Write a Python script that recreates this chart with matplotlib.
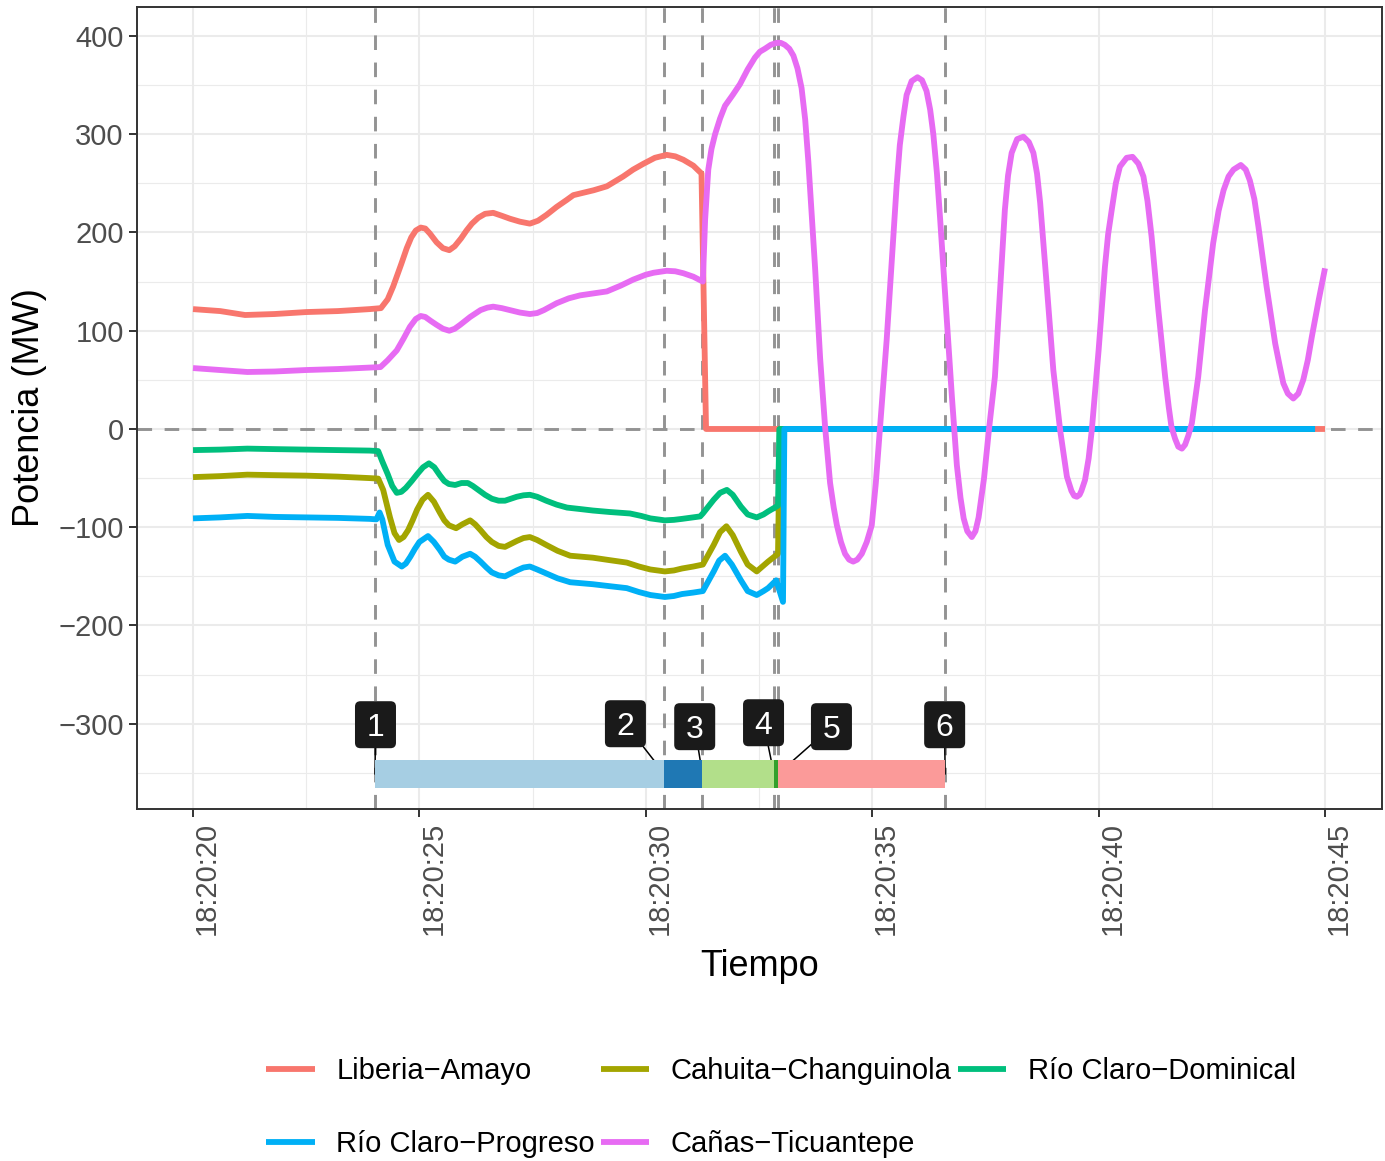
import datetime as dt
import matplotlib
matplotlib.use("Agg")
import matplotlib.pyplot as plt
from matplotlib.patches import FancyBboxPatch
from matplotlib.ticker import FixedLocator, FuncFormatter

# time = seconds after 18:20:20
base = dt.datetime(2020, 1, 1, 18, 20, 20)

t_lib = [0, 0.6, 1.15, 1.8, 2.5, 3.2, 3.9, 4.15, 4.3, 4.42, 4.6, 4.72, 4.82, 4.92, 5.03, 5.13,
         5.23, 5.38, 5.52, 5.66, 5.78, 5.92, 6.04, 6.16, 6.3, 6.45, 6.63, 6.82, 7.0, 7.22,
         7.44, 7.62, 7.81, 8.03, 8.25, 8.4, 8.58, 8.85, 9.14, 9.32, 9.5, 9.72, 9.95, 10.2,
         10.46, 10.65, 10.83, 11.05, 11.23, 11.33, 25.0]
v_lib = [122, 120, 116, 117, 119, 120, 122, 123, 132, 145, 168, 184, 195, 202, 205, 204,
         199, 190, 184, 182, 186, 194, 202, 209, 215, 219, 220, 217, 214, 211,
         209, 212, 218, 226, 233, 238, 240, 243, 247, 252, 257, 264, 270, 276,
         279, 277.5, 274, 268, 260, 0, 0]

t_cah = [0, 0.6, 1.2, 1.8, 2.5, 3.2, 3.9, 4.09, 4.2, 4.35, 4.45, 4.55, 4.65, 4.75, 4.85, 4.95,
         5.07, 5.19, 5.32, 5.45, 5.55, 5.65, 5.81, 5.95, 6.12, 6.23, 6.35, 6.48, 6.6, 6.75,
         6.89, 7.02, 7.15, 7.3, 7.44, 7.6, 7.8, 8.05, 8.33, 8.58, 8.83, 9.2, 9.58, 9.85,
         10.1, 10.42, 10.62, 10.8, 11.05, 11.26, 11.38, 11.5, 11.64, 11.78, 11.92, 12.1,
         12.25, 12.45, 12.6, 12.7, 12.92, 12.96, 24.78]
v_cah = [-49, -48, -46.5, -47, -47.5, -48.5, -50, -50.5, -62, -90, -106, -113, -110, -103, -93, -82,
         -72, -67, -74, -85, -93, -98, -101, -97, -93, -97, -103, -110, -115, -119,
         -120, -117, -114, -111, -110, -113, -118, -124, -129, -130, -131, -133.5, -136, -140,
         -143, -145, -144, -142, -140, -138, -128, -118, -105, -99, -108, -125,
         -138, -145, -139, -135, -127, 0, 0]

t_dom = [0, 0.6, 1.2, 1.8, 2.5, 3.2, 3.9, 4.09, 4.18, 4.3, 4.4, 4.5, 4.6, 4.7, 4.83, 4.95,
         5.08, 5.21, 5.33, 5.45, 5.55, 5.65, 5.79, 5.93, 6.07, 6.18, 6.3, 6.45, 6.6, 6.75,
         6.89, 7.02, 7.15, 7.3, 7.44, 7.6, 7.8, 8.03, 8.26, 8.55, 8.83, 9.2, 9.65, 9.9,
         10.1, 10.42, 10.62, 10.8, 11.2, 11.26, 11.38, 11.5, 11.64, 11.79, 11.92, 12.1,
         12.25, 12.45, 12.6, 12.7, 12.92, 12.95, 24.78]
v_dom = [-21.5, -21, -20, -20.5, -21, -21.5, -22, -22.5, -33, -46, -58, -65, -64, -60, -53, -46,
         -39, -35, -39, -47, -53, -56, -57, -55, -55, -58, -62, -67, -71, -73,
         -73, -71, -69, -67.5, -67, -69, -73, -77, -80, -81.5, -83, -84.5, -86, -88.5,
         -91, -93, -92.5, -91.5, -89, -86, -79, -72, -65, -62, -67, -79,
         -87, -90, -87, -84, -78, 0, 0]

t_pro = [0, 0.6, 1.2, 1.8, 2.5, 3.2, 3.9, 4.05, 4.12, 4.18, 4.3, 4.45, 4.61, 4.7, 4.8, 4.9,
         5.0, 5.19, 5.32, 5.45, 5.55, 5.65, 5.79, 5.95, 6.12, 6.23, 6.35, 6.48, 6.6, 6.75,
         6.89, 7.02, 7.15, 7.3, 7.44, 7.6, 7.8, 8.05, 8.33, 8.58, 8.83, 9.2, 9.58, 9.85,
         10.1, 10.42, 10.62, 10.8, 11.05, 11.26, 11.38, 11.5, 11.62, 11.75, 11.9, 12.1,
         12.25, 12.45, 12.6, 12.7, 12.88, 13.03, 13.06, 24.78]
v_pro = [-91, -90, -88.5, -89.5, -90, -90.5, -91.5, -92, -85, -92, -118, -135, -140, -137, -130, -122,
         -115, -109, -115, -123, -130, -133, -135, -130, -127, -130, -135, -141, -146, -149,
         -150, -147, -144, -141, -140, -143, -147, -152, -156, -157, -158, -160, -162, -166,
         -169, -171, -170, -168, -166.5, -165, -155, -145, -134, -129, -138, -154,
         -165, -169, -165, -162, -154, -176, 0, 0]

t_can = [0, 0.6, 1.2, 1.8, 2.5, 3.2, 3.9, 4.14, 4.3, 4.5, 4.65, 4.79, 4.92, 5.03, 5.13, 5.25,
         5.38, 5.52, 5.66, 5.78, 5.9, 6.12, 6.35, 6.5, 6.63, 6.82, 7.0, 7.22, 7.44, 7.6,
         7.75, 8.03, 8.3, 8.55, 8.85, 9.14, 9.45, 9.72, 10.0, 10.17, 10.46, 10.65, 10.83, 11.05,
         11.26, 11.31, 11.38, 11.45, 11.53, 11.64, 11.75, 11.92, 12.08, 12.25, 12.41, 12.52,
         12.63, 12.76, 12.89, 12.98, 13.07, 13.17, 13.26, 13.35, 13.44, 13.52, 13.59, 13.74,
         13.85, 13.96, 14.07, 14.15, 14.22, 14.31, 14.40, 14.49, 14.58, 14.67, 14.77, 14.88,
         14.99, 15.08, 15.17, 15.32, 15.47, 15.54, 15.61, 15.69, 15.76, 15.87, 16.0, 16.1,
         16.2, 16.28, 16.35, 16.43, 16.5, 16.64, 16.76, 16.87, 16.95, 17.02, 17.1, 17.2,
         17.28, 17.35, 17.47, 17.58, 17.71, 17.82, 17.93, 18.0, 18.08, 18.2, 18.34, 18.46,
         18.56, 18.64, 18.71, 18.85, 19.0, 19.15, 19.3, 19.4, 19.46, 19.52, 19.58, 19.62,
         19.7, 19.78, 19.85, 20.0, 20.14, 20.21, 20.29, 20.38, 20.47, 20.62, 20.75, 20.88,
         20.99, 21.08, 21.17, 21.32, 21.47, 21.55, 21.61, 21.69, 21.76, 21.84, 21.91, 21.98,
         22.06, 22.2, 22.35, 22.53, 22.65, 22.76, 22.87, 22.98, 23.14, 23.25, 23.34, 23.44,
         23.53, 23.71, 23.9, 24.0, 24.08, 24.18, 24.3, 24.41, 24.52, 24.62, 24.71, 24.86,
         25.0]
v_can = [62, 60, 58, 58.5, 60, 61, 62.5, 63, 70, 80, 92, 104, 112, 115, 114, 110,
         106, 102, 100, 102, 106, 114, 121, 123.5, 124.5, 123, 121, 118.5, 117, 118,
         121, 128, 133, 136, 138, 140, 146, 152, 157, 159, 161, 160.5, 158.5, 155,
         150, 213, 264, 285, 300, 316, 329, 340, 351, 366, 378, 384,
         387, 391, 393, 393, 391, 387, 380, 367, 347, 315, 272, 163,
         72, 2, -55, -80, -98, -115, -127, -133, -135, -133, -127, -115,
         -98, -55, 0, 91, 199, 248, 289, 318, 340, 354, 358, 355,
         344, 325, 300, 260, 214, 116, 33, -37, -70, -91, -104, -110,
         -104, -90, -50, 0, 53, 138, 223, 258, 281, 295, 297.5, 292,
         281, 260, 230, 149, 60, -1, -48.5, -63, -68, -69, -67, -63,
         -52, -30, -1, 80, 165, 198, 223, 250, 267, 276, 277, 270,
         257, 232, 196, 121, 53, 22, 2, -10, -18, -20, -16, -7,
         6, 53, 121, 189, 222, 243, 257, 264, 268.7, 264, 253, 234,
         206, 145, 87, 64, 46.5, 36, 31, 36, 50, 70, 94, 131,
         163.5]

series_names = ["Liberia\u2212Amayo", "Cahuita\u2212Changuinola", "Río Claro\u2212Dominical",
                "Río Claro\u2212Progreso", "Cañas\u2212Ticuantepe"]
series_t = [t_lib, t_cah, t_dom, t_pro, t_can]
series_v = [v_lib, v_cah, v_dom, v_pro, v_can]
series_colors = ["#F8766D", "#A3A500", "#00BF7D", "#00B0F6", "#E76BF3"]

# events (dashed lines + timeline)
event_t = [4.02, 10.41, 11.25, 12.83, 12.92, 16.61]
event_labels = ["1", "2", "3", "4", "5", "6"]
segment_colors = ["#A6CEE3", "#1F78B4", "#B2DF8A", "#33A02C", "#FB9A99"]
# label box positions (repelled)
label_x = [4.03, 9.55, 11.08, 12.60, 14.10, 16.60]
label_y = [-301, -300, -303, -299, -303, -301]

plt.rcParams["font.family"] = ["Liberation Sans", "DejaVu Sans"]

W, H = 1385, 1161
fig = plt.figure(figsize=(W / 100, H / 100), dpi=100)
left, right, top, bottom = 137 / W, 1382 / W, 1 - 7 / H, 1 - 809 / H
ax = fig.add_axes([left, bottom, right - left, top - bottom])

xlim = (-1.237, 26.259)
ylim = (-386.8, 429.5)
ax.set_xlim(*xlim)
ax.set_ylim(*ylim)

# grid
ax.xaxis.set_major_locator(FixedLocator([0, 5, 10, 15, 20, 25]))
ax.xaxis.set_minor_locator(FixedLocator([2.5, 7.5, 12.5, 17.5, 22.5]))
ax.yaxis.set_major_locator(FixedLocator([-300, -200, -100, 0, 100, 200, 300, 400]))
ax.yaxis.set_minor_locator(FixedLocator([-350, -250, -150, -50, 50, 150, 250, 350]))
ax.grid(which="major", color="#EBEBEB", lw=1.5, zorder=0)
ax.grid(which="minor", color="#EBEBEB", lw=0.8, zorder=0)
ax.set_axisbelow(True)

dash = (0, (5, 4.3))
for te in event_t:
    ax.axvline(te, color="#939393", lw=2.1, ls=dash, zorder=1)
ax.axhline(0, color="#939393", lw=2.1, ls=dash, zorder=1)

handles = []
for name, tt, vv, c in zip(series_names, series_t, series_v, series_colors):
    h, = ax.plot(tt, vv, color=c, lw=4.2, label=name, solid_capstyle="butt",
                 solid_joinstyle="round", zorder=2)
    handles.append(h)

# timeline
bar_y, bar_h = -351, 28.5
for lx, ly, te in zip(label_x, label_y, event_t):
    ax.plot([lx, te], [ly, bar_y], color="black", lw=1.1, zorder=3)
for i, c in enumerate(segment_colors):
    ax.barh(bar_y, event_t[i + 1] - event_t[i], left=event_t[i], height=bar_h,
            color=c, zorder=4)

ax_w_px = (right - left) * W
ax_h_px = (top - bottom) * H
aspect = ((ylim[1] - ylim[0]) / ax_h_px) / ((xlim[1] - xlim[0]) / ax_w_px)
bw = 41 * (xlim[1] - xlim[0]) / ax_w_px
bh = 47 * (ylim[1] - ylim[0]) / ax_h_px
for lx, ly, lab in zip(label_x, label_y, event_labels):
    box = FancyBboxPatch((lx - bw / 2, ly - bh / 2), bw, bh,
                         boxstyle="round,pad=0,rounding_size=0.12",
                         mutation_aspect=aspect, fc="#1A1A1A", ec="none", zorder=5)
    ax.add_patch(box)
    ax.text(lx, ly, lab, color="white", fontsize=23, ha="center", va="center_baseline",
            zorder=6)

# axes styling
for sp in ax.spines.values():
    sp.set_color("#333333")
    sp.set_linewidth(1.4)
ax.tick_params(which="major", length=5.5, width=1.4, color="#333333",
               labelsize=21, labelcolor="#4D4D4D", pad=4)
ax.tick_params(which="minor", length=0)


def fmt_time(x, pos):
    return (base + dt.timedelta(seconds=float(x))).strftime("%H:%M:%S")


ax.xaxis.set_major_formatter(FuncFormatter(fmt_time))
ax.tick_params(axis="x", labelrotation=90)
for lab in ax.get_xticklabels():
    lab.set_ha("left")
    lab.set_va("top")

ax.set_xlabel("Tiempo", fontsize=26, labelpad=10)
ax.set_ylabel("Potencia (MW)", fontsize=26, labelpad=8)

leg_handles = [handles[0], handles[3], handles[1], handles[4], handles[2]]
leg_labels = [h.get_label() for h in leg_handles]
fig.legend(leg_handles, leg_labels, loc="center", bbox_to_anchor=(0.564, 0.046),
           ncol=3, frameon=False, fontsize=21, handlelength=1.65, handletextpad=0.75,
           columnspacing=0.2, labelspacing=1.55)

fig.savefig("out.png", dpi=100)
